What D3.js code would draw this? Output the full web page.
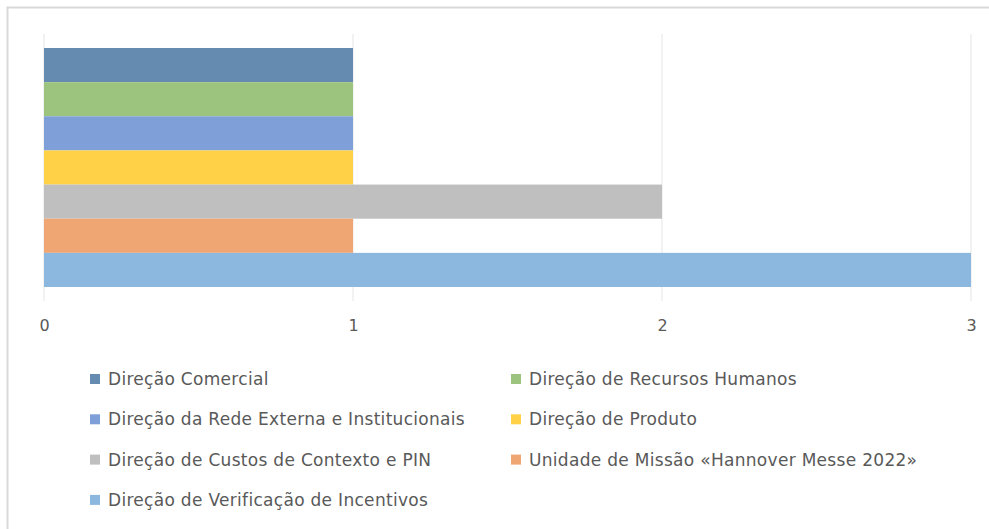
<!DOCTYPE html>
<html>
  <head>
    <meta charset="utf-8">
    <title>Direções</title>
    <script src="https://d3js.org/d3.v7.min.js"></script>
    <style>
      body { margin: 0; background: #fff; }
      #chart { display: block; }
      .tick text, .legendLabel { font-family: "DejaVu Sans", sans-serif; fill: #595959; }
    </style>
  </head>
  <body>
    <svg id="chart" width="989" height="529"></svg>
    <script>
      // data
      const series = [
        "Direção Comercial",
        "Direção de Recursos Humanos",
        "Direção da Rede Externa e Institucionais",
        "Direção de Produto",
        "Direção de Custos de Contexto e PIN",
        "Unidade de Missão «Hannover Messe 2022»",
        "Direção de Verificação de Incentivos"
      ];
      const values = [1, 1, 1, 1, 2, 1, 3];
      const colours = ["#668bb1", "#9cc47f", "#7f9fd8", "#ffd147", "#bfbfbf", "#f0a672", "#8cb8e0"];
      const ticks = [0, 1, 2, 3];

      const svg = d3.select("#chart");

      // outer frame
      svg.append("rect")
        .attr("x", 7.5).attr("y", 7.5)
        .attr("width", 1000).attr("height", 600)
        .attr("fill", "none")
        .attr("stroke", "#d9d9d9")
        .attr("stroke-width", 2);

      const x = d3.scaleLinear().domain([0, 3]).range([44, 971]);
      const y = d3.scaleBand().domain(series).range([48, 287]);

      // gridlines
      svg.append("g")
        .selectAll("line")
          .data(ticks)
        .enter().append("line")
          .attr("x1", d => x(d)).attr("x2", d => x(d))
          .attr("y1", 34).attr("y2", 301)
          .attr("stroke", "#e9e9e9")
          .attr("stroke-width", 1.2);

      // bars
      svg.append("g")
        .selectAll("rect")
          .data(series)
        .enter().append("rect")
          .attr("x", x(0))
          .attr("y", d => y(d))
          .attr("width", (d, i) => x(values[i]) - x(0))
          .attr("height", y.bandwidth())
          .attr("fill", (d, i) => colours[i]);

      // axis labels
      const axis = svg.append("g")
        .attr("transform", "translate(0,320)")
        .call(d3.axisBottom(x).tickValues(ticks).tickFormat(d3.format("d")).tickSize(0).tickPadding(0));
      axis.select(".domain").remove();
      axis.selectAll("text").attr("font-size", 16).attr("dy", "0.71em");

      // legend
      const legend = svg.append("g")
        .selectAll("g")
          .data(series)
        .enter().append("g")
          .attr("transform", (d, i) => "translate(" + (i % 2 ? 511 : 90) + "," + (379 + Math.floor(i / 2) * 40.3) + ")");
      legend.append("rect")
        .attr("x", 0).attr("y", -5)
        .attr("width", 10).attr("height", 10)
        .attr("fill", (d, i) => colours[i]);
      legend.append("text")
        .classed("legendLabel", true)
        .attr("x", 18).attr("y", 0)
        .attr("dy", "0.35em")
        .attr("font-size", 17)
        .attr("letter-spacing", 0.3)
        .text(d => d);
    </script>
  </body>
</html>
